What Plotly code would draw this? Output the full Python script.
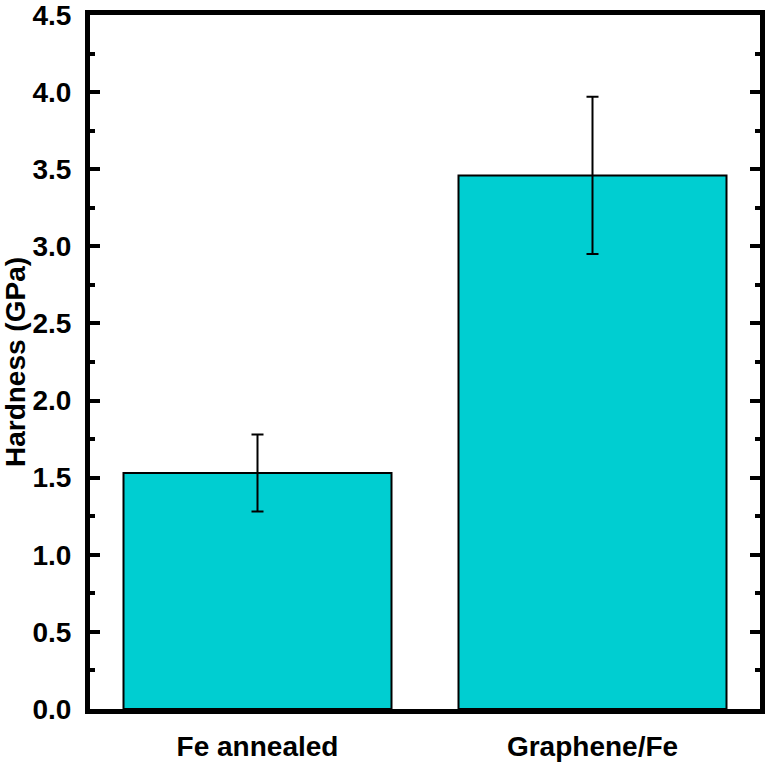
import plotly.graph_objects as go

categories = ["Fe annealed", "Graphene/Fe"]
hardness = [1.53, 3.46]
hardness_err = [0.25, 0.51]
y_ticks = [0.0, 0.5, 1.0, 1.5, 2.0, 2.5, 3.0, 3.5, 4.0, 4.5]

fig = go.Figure()
fig.add_trace(go.Bar(
    x=categories, y=hardness, width=0.8,
    marker=dict(color="#00CED1", line=dict(color="black", width=2)),
    error_y=dict(type="data", array=hardness_err, visible=True,
                 color="black", thickness=2, width=6),
))

font = "Liberation Sans, Arial, sans-serif"
fig.update_layout(
    width=765, height=762,
    margin=dict(l=90, r=0, t=14, b=53),
    paper_bgcolor="white", plot_bgcolor="white",
    showlegend=False,
    font=dict(family=font, color="black"),
    bargap=0.2,
)
fig.update_xaxes(
    range=[-0.5, 1.5], showline=True, linewidth=5, linecolor="black",
    mirror=True, ticks="", showgrid=False,
    tickfont=dict(size=28, family=font, weight="bold"),
    ticklabelstandoff=8,
)
fig.update_yaxes(
    range=[0, 4.5001], tickvals=y_ticks, ticktext=[f"{v:.1f}" for v in y_ticks],
    showline=True, linewidth=5, linecolor="black", mirror="ticks",
    ticks="inside", ticklen=10, tickwidth=4, tickcolor="black",
    minor=dict(ticks="inside", ticklen=5, tickwidth=4, dtick=0.25, tickcolor="black", showgrid=False),
    showgrid=False, zeroline=False,
    tickfont=dict(size=28, family=font, weight="bold"),
    ticklabelstandoff=8, ticklabeloverflow="allow",
    title=dict(text="Hardness (GPa)", font=dict(size=28, family=font, weight="bold"), standoff=6),
)

fig.write_html("out.html")
